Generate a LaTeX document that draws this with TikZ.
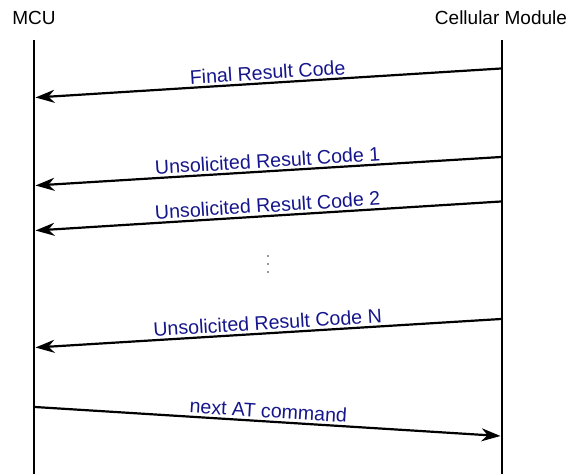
\documentclass[tikz,border=0pt]{standalone}
\usepackage{fontspec}
\setmainfont{Liberation Sans}
\usetikzlibrary{arrows.meta}
\definecolor{msgblue}{RGB}{22,22,140}
\begin{document}
\begin{tikzpicture}[x=1pt,y=-1pt,
  every node/.style={font=\fontsize{19}{22}\selectfont},
  lifeline/.style={line width=2pt,black},
  msg/.style={line width=2.2pt,black,
    -{Stealth[length=19pt,width=13pt,inset=6pt]}},
  msglabel/.style={sloped,above=2.5pt,inner sep=0pt,text=msgblue,
    font=\fontsize{19.6}{22}\selectfont}]
\useasboundingbox (0,0) rectangle (571,474);

% participants
\node[anchor=base] (mcu) at (34,24) {MCU};
\node[anchor=base] (cm) at (501,24) {Cellular Module};

% lifelines
\coordinate (mcuTop) at (34,40);
\coordinate (mcuBot) at (34,474);
\coordinate (cmTop) at (502,40);
\coordinate (cmBot) at (502,474);
\draw[lifeline] (mcuTop) -- (mcuBot);
\draw[lifeline] (cmTop) -- (cmBot);

% message end points
\coordinate (f1) at (501,68.5);   \coordinate (t1) at (35.5,97.5);
\coordinate (f2) at (501,157);    \coordinate (t2) at (35.5,185.5);
\coordinate (f3) at (501,201.5);  \coordinate (t3) at (35.5,230.5);
\coordinate (f4) at (501,319);    \coordinate (t4) at (35.5,347.5);
\coordinate (f5) at (35,407);     \coordinate (t5) at (500.5,436);

% messages
\draw[msg] (f1) -- node[msglabel] {Final Result Code} (t1);
\draw[msg] (f2) -- node[msglabel] {Unsolicited Result Code 1} (t2);
\draw[msg] (f3) -- node[msglabel] {Unsolicited Result Code 2} (t3);
\draw[msg] (f4) -- node[msglabel] {Unsolicited Result Code N} (t4);
\draw[msg] (f5) -- node[msglabel] {next AT command} (t5);

% vertical ellipsis between messages
\foreach \y in {256,264,272}
  \fill[black!80] (268,\y) circle (0.8);
\end{tikzpicture}
\end{document}
